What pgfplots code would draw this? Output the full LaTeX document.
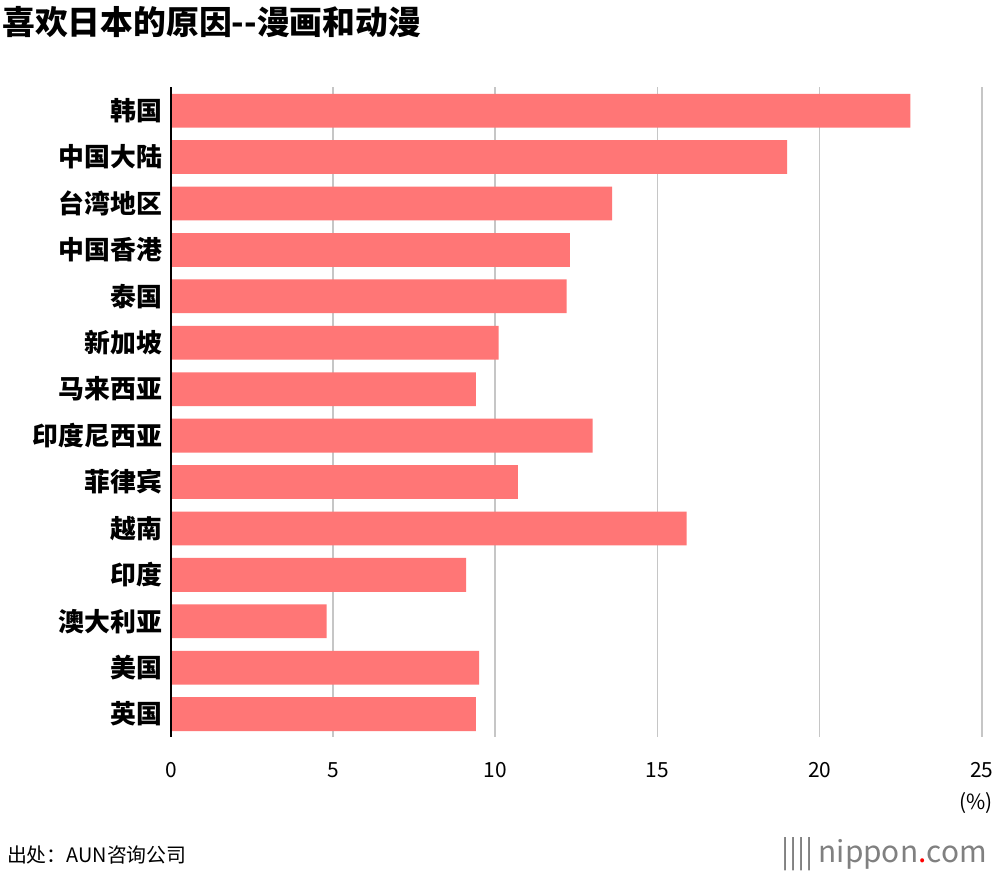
\documentclass[border=0pt]{standalone}
\usepackage{pgfplots}
\pgfplotsset{compat=1.18}
\usepackage{fontspec}
\setmainfont{Noto Sans CJK SC}
\definecolor{barc}{HTML}{FF7676}
\begin{document}
\begin{tikzpicture}
\path[fill=white] (0,0) rectangle (500pt,441pt);
\node[anchor=north west,font=\fontsize{16.5}{18}\selectfont\bfseries,inner sep=1pt] at (0pt,439pt) {喜欢日本的原因{-}{-}漫画和动漫};
\begin{axis}[at={(86pt,70pt)},anchor=south west,scale only axis,
 width=408pt,height=327pt,
 xbar,bar width=17pt,
 xmin=0,xmax=25,ymin=-0.5,ymax=13.5,y dir=reverse,
 ytick={0,...,13},
 yticklabels={韩国,中国大陆,台湾地区,中国香港,泰国,新加坡,马来西亚,印度尼西亚,菲律宾,越南,印度,澳大利亚,美国,英国},
 yticklabel style={font=\fontsize{13}{14}\selectfont\bfseries,xshift=-1pt},
 xtick={0,5,10,15,20,25},
 xticklabel style={font=\fontsize{10.5}{12}\selectfont,yshift=-9pt},
 /pgf/number format/assume math mode=true,
 xmajorgrids,grid style={gray!45,line width=0.8pt},
 axis line style={draw=none},
 major tick length=0pt,
 clip=false]
\addplot[fill=barc,draw=none] coordinates {
(22.8,0)(19.0,1)(13.6,2)(12.3,3)(12.2,4)(10.1,5)(9.4,6)(13.0,7)(10.7,8)(15.9,9)(9.1,10)(4.8,11)(9.5,12)(9.4,13)};
\draw[black,line width=0.8pt] (axis cs:0,-0.5) -- (axis cs:0,13.5);
\node[font=\fontsize{10.5}{12}\selectfont] at (axis cs:25,13.5) [yshift=-33pt,xshift=-3pt] {(\%)};
\end{axis}
\node[anchor=west,font=\fontsize{10}{12}\selectfont] at (0pt,11pt) {出处：AUN咨询公司};
\node[anchor=east,font=\fontsize{15}{16}\selectfont,text=gray] at (500pt,11pt) {||||\,nippon{\color{red}.}com};
\end{tikzpicture}
\end{document}
